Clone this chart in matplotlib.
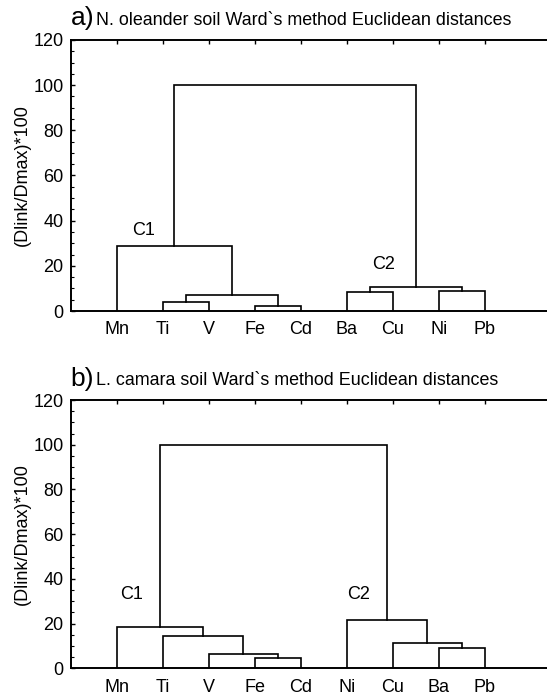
import matplotlib
matplotlib.use("Agg")
import matplotlib.pyplot as plt
from matplotlib.ticker import MultipleLocator

plt.rcParams['font.family'] = ['Liberation Sans', 'DejaVu Sans']

# Panel a) N. oleander soil
leaves_a = ["Mn", "Ti", "V", "Fe", "Cd", "Ba", "Cu", "Ni", "Pb"]
# merges: pairs of cluster ids ; new cluster ids start at len(leaves)
merge_pairs_a = [(1, 2), (3, 4), (9, 10), (0, 11), (5, 6), (7, 8), (13, 14), (12, 15)]
merge_heights_a = [3.9, 2.4, 6.9, 28.6, 8.3, 8.8, 10.6, 100.0]

# Panel b) L. camara soil
leaves_b = ["Mn", "Ti", "V", "Fe", "Cd", "Ni", "Cu", "Ba", "Pb"]
merge_pairs_b = [(3, 4), (2, 9), (1, 10), (0, 11), (7, 8), (6, 13), (5, 14), (12, 15)]
merge_heights_b = [4.5, 6.4, 14.6, 18.5, 9.1, 11.5, 21.6, 100.0]

cluster_labels = ["C1", "C2"]
label_pos_a = [(1.58, 35.8), (6.8, 20.4)]
label_pos_b = [(1.33, 32.8), (6.27, 32.8)]


def draw_dendrogram(ax, leaves, pairs, heights):
    xs = {i: float(i + 1) for i in range(len(leaves))}
    hs = {i: 0.0 for i in range(len(leaves))}
    new_id = len(leaves)
    for (a, b), h in zip(pairs, heights):
        ax.plot([xs[a], xs[a], xs[b], xs[b]], [hs[a], h, h, hs[b]],
                color='black', lw=1.2, solid_joinstyle='miter')
        xs[new_id] = (xs[a] + xs[b]) / 2
        hs[new_id] = h
        new_id += 1


def style_axes(ax, leaves, tag, title):
    ax.set_xlim(0, 10.45)
    ax.set_ylim(0, 120)
    for s in ['left', 'top', 'bottom']:
        ax.spines[s].set_linewidth(1.4)
    ax.spines['right'].set_visible(False)
    ax.yaxis.set_major_locator(MultipleLocator(20))
    ax.yaxis.set_minor_locator(MultipleLocator(5))
    ax.tick_params(axis='y', which='major', direction='in', length=3, width=1,
                   labelsize=13, pad=5, right=False)
    ax.tick_params(axis='y', which='minor', direction='in', length=2, width=0.8,
                   right=False)
    ax.set_xticks(range(1, len(leaves) + 1))
    ax.set_xticklabels(leaves)
    ax.tick_params(axis='x', direction='in', length=3, width=1, labelsize=13,
                   bottom=False, top=True, pad=7.5)
    ax.set_ylabel("(Dlink/Dmax)*100", fontsize=13, labelpad=1.5)
    ax.text(0.0, 1.035, tag, transform=ax.transAxes, fontsize=19,
            ha='left', va='bottom')
    ax.text(0.052, 1.04, title, transform=ax.transAxes, fontsize=12.9,
            ha='left', va='bottom')


def make_figure():
    fig = plt.figure(figsize=(5.47, 6.95), dpi=100)
    ax_a = fig.add_axes([0.129, 0.5525, 0.879, 0.39])
    ax_b = fig.add_axes([0.129, 0.0384, 0.879, 0.386])

    draw_dendrogram(ax_a, leaves_a, merge_pairs_a, merge_heights_a)
    style_axes(ax_a, leaves_a, "a)", "N. oleander soil Ward`s method Euclidean distances")
    for lab, (x, y) in zip(cluster_labels, label_pos_a):
        ax_a.text(x, y, lab, fontsize=13, ha='center', va='center')

    draw_dendrogram(ax_b, leaves_b, merge_pairs_b, merge_heights_b)
    style_axes(ax_b, leaves_b, "b)", "L. camara soil Ward`s method Euclidean distances")
    for lab, (x, y) in zip(cluster_labels, label_pos_b):
        ax_b.text(x, y, lab, fontsize=13, ha='center', va='center')

    fig.savefig("out.png", dpi=100)
    plt.close(fig)


if __name__ == "__main__":
    make_figure()
